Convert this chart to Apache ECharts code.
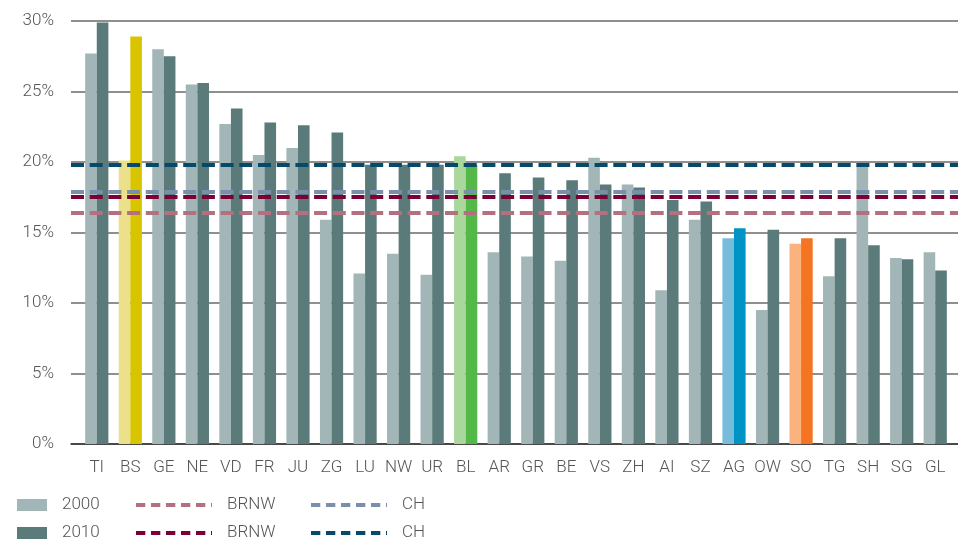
<!DOCTYPE html>
<html>
<head>
<meta charset="utf-8">
<script src="https://cdn.jsdelivr.net/npm/echarts@6/dist/echarts.min.js"></script>
<style>
html,body{margin:0;padding:0;background:#fff;}
#c{width:958px;height:544px;}
</style>
</head>
<body>
<div id="c"></div>
<script>
// ---- data ----
var categories = ['TI','BS','GE','NE','VD','FR','JU','ZG','LU','NW','UR','BL','AR','GR','BE','VS','ZH','AI','SZ','AG','OW','SO','TG','SH','SG','GL'];
var values2000 = [27.7,20.1,28.0,25.5,22.7,20.5,21.0,15.9,12.1,13.5,12.0,20.4,13.6,13.3,13.0,20.3,18.4,10.9,15.9,14.6,9.5,14.2,11.9,19.9,13.2,13.6];
var values2010 = [29.9,28.9,27.5,25.6,23.8,22.8,22.6,22.1,19.8,19.8,19.8,19.8,19.2,18.9,18.7,18.4,18.2,17.3,17.2,15.3,15.2,14.6,14.6,14.1,13.1,12.3];
var brnw2000 = 16.4;
var brnw2010 = 17.5;
var ch2000 = 17.9;
var ch2010 = 19.8;
var yTicks = [0,5,10,15,20,25,30];

// ---- styles ----
var col2000 = '#a3b6b7';
var col2010 = '#5a7b7a';
var highlight = {
  BS: ['#ede08b', '#d9c400'],
  BL: ['#aad79c', '#53b848'],
  AG: ['#77bcdb', '#0093c5'],
  SO: ['#fbb37e', '#f47422']
};
var lineCols = { b0: '#b5707f', b1: '#7b0035', c0: '#7a8fab', c1: '#064a6b' };
var FONT = 'Roboto, "Liberation Sans", sans-serif';
var TXT = '#555555';

function barData(vals, idx) {
  return vals.map(function (v, i) {
    var h = highlight[categories[i]];
    return h ? { value: v, itemStyle: { color: h[idx] } } : v;
  });
}

function refLine(name, value, color) {
  return {
    name: name, type: 'line', xAxisIndex: 1, yAxisIndex: 1, data: [],
    symbol: 'none', showSymbol: false, z: 10,
    lineStyle: { color: color, width: 4, type: [13, 5.7] },
    itemStyle: { color: color },
    markLine: {
      silent: true, symbol: ['none', 'none'], animation: false, z: 10,
      label: { show: false },
      lineStyle: { color: color, width: 4, type: [13, 5.7] },
      data: [{ yAxis: value }]
    }
  };
}

function legend(left, names, isLine) {
  var l = {
    orient: 'vertical', left: left, top: 495, padding: 0, itemGap: 8,
    itemWidth: isLine ? 76 : 30, itemHeight: 12,
    selectedMode: false,
    data: names,
    formatter: function (n) { return n.split(' ')[0]; },
    textStyle: { fontFamily: FONT, fontWeight: 300, fontSize: 17, color: TXT, lineHeight: 20, padding: [0, 0, 0, 10] }
  };
  if (isLine) {
    l.lineStyle = { width: 4, type: [9.3, 5.7] };
    l.itemStyle = { opacity: 0, borderWidth: 0 };
  } else {
    l.icon = 'rect';
  }
  return l;
}

var chart = echarts.init(document.getElementById('c'), null, { renderer: 'canvas' });
chart.setOption({
  animation: false,
  backgroundColor: '#ffffff',
  grid: [
    { left: 80, right: 6, top: 21, bottom: 100 },
    { left: 71, right: 0, top: 21, bottom: 100 }
  ],
  legend: [
    legend(17, ['2000', '2010'], false),
    legend(134, ['BRNW 2000', 'BRNW 2010'], true),
    legend(309, ['CH 2000', 'CH 2010'], true)
  ],
  xAxis: [
    {
      type: 'category', gridIndex: 0, data: categories, boundaryGap: true,
      axisLine: { show: false }, axisTick: { show: false },
      axisLabel: { fontFamily: FONT, fontWeight: 300, fontSize: 17, color: TXT, margin: 15, interval: 0 }
    },
    {
      type: 'value', gridIndex: 1, min: 0, max: 1, show: true,
      axisLine: { show: true, onZero: false, lineStyle: { color: '#333333', width: 1.5 } },
      axisTick: { show: false }, axisLabel: { show: false }, splitLine: { show: false }
    }
  ],
  yAxis: [
    {
      type: 'value', gridIndex: 0, min: yTicks[0], max: yTicks[yTicks.length - 1], interval: 5,
      axisLine: { show: false }, axisTick: { show: false }, axisLabel: { show: false }, splitLine: { show: false }
    },
    {
      type: 'value', gridIndex: 1, min: yTicks[0], max: yTicks[yTicks.length - 1], interval: 5,
      axisLine: { show: false }, axisTick: { show: false },
      axisLabel: { fontFamily: FONT, fontWeight: 300, fontSize: 17, color: TXT, margin: 17, formatter: '{value}%' },
      splitLine: { show: true, lineStyle: { color: '#6a6a6a', width: 1.5 } }
    }
  ],
  series: [
    {
      name: '2000', type: 'bar', xAxisIndex: 0, yAxisIndex: 0, barWidth: 11.6, barGap: '0%',
      itemStyle: { color: col2000 }, data: barData(values2000, 0), z: 3
    },
    {
      name: '2010', type: 'bar', xAxisIndex: 0, yAxisIndex: 0, barWidth: 11.6, barGap: '0%',
      itemStyle: { color: col2010 }, data: barData(values2010, 1), z: 3
    },
    refLine('BRNW 2000', brnw2000, lineCols.b0),
    refLine('BRNW 2010', brnw2010, lineCols.b1),
    refLine('CH 2000', ch2000, lineCols.c0),
    refLine('CH 2010', ch2010, lineCols.c1)
  ]
});
</script>
</body>
</html>
